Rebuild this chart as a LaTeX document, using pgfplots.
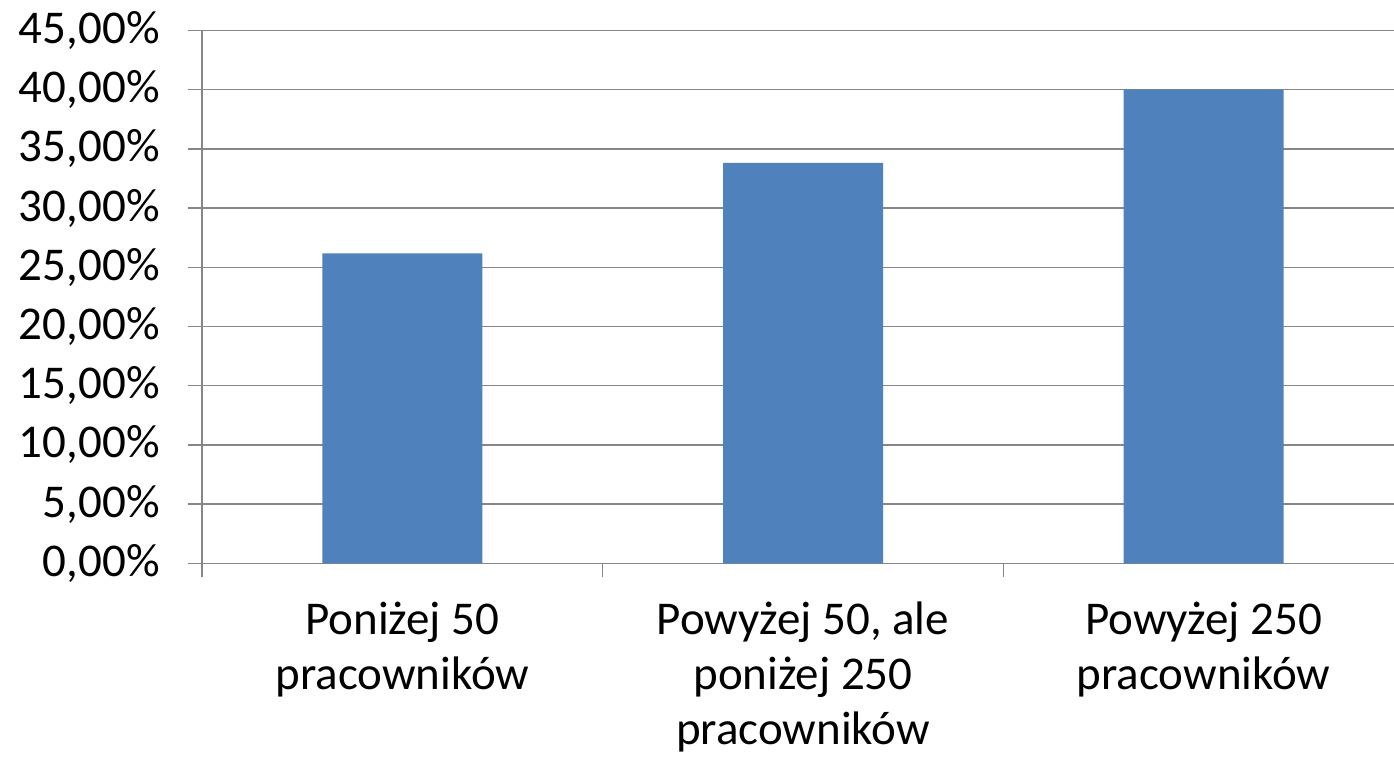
\documentclass[border=0pt]{standalone}
\usepackage{fontspec}
\setmainfont{Carlito}
\usepackage{pgfplots}
\pgfplotsset{compat=1.18}
\definecolor{barblue}{HTML}{4F81BD}
\definecolor{gridgray}{HTML}{868686}
\begin{document}
\begin{tikzpicture}
\begin{axis}[
  at={(0,0)}, anchor=south west,
  scale only axis,
  width=596pt, height=266.4pt,
  xmin=-0.5, xmax=2.475,
  ymin=0, ymax=45,
  ytick={0,5,...,45},
  xtick={-0.5,0.5,1.5,2.5},
  xticklabels={},
  extra x ticks={0,1,2},
  extra x tick labels={{Poniżej 50\\pracowników},{Powyżej 50, ale\\poniżej 250\\pracowników},{Powyżej 250\\pracowników}},
  extra x tick style={major tick length=0pt, grid=none, tick style={draw=none},
    xticklabel style={font=\fontsize{23.5}{27.5}\selectfont, align=center, anchor=north, inner sep=0pt, yshift=-19pt}},
  axis x line*=bottom, axis y line*=left,
  axis line style={gridgray, line width=0.75pt, -},
  ymajorgrids, grid style={gridgray, line width=0.75pt},
  tick align=outside, major tick length=7pt,
  tick style={gridgray, line width=0.75pt},
  /pgf/number format/assume math mode=true,
  yticklabel={\pgfmathprintnumber[fixed,fixed zerofill,precision=2,use comma]{\tick}\%},
  yticklabel style={font=\fontsize{23.5}{28}\selectfont, anchor=east, inner sep=0pt, xshift=-14pt},
  ybar, bar width=80pt, bar shift=0pt,
  clip=true,
]
\addplot[fill=barblue, draw=none] coordinates {(0,26.18) (1,33.83) (2,40.0)};
\end{axis}
\pgfresetboundingbox
\path[use as bounding box] (-101pt,-100.85pt) rectangle (596pt,281.65pt);
\end{tikzpicture}
\end{document}
